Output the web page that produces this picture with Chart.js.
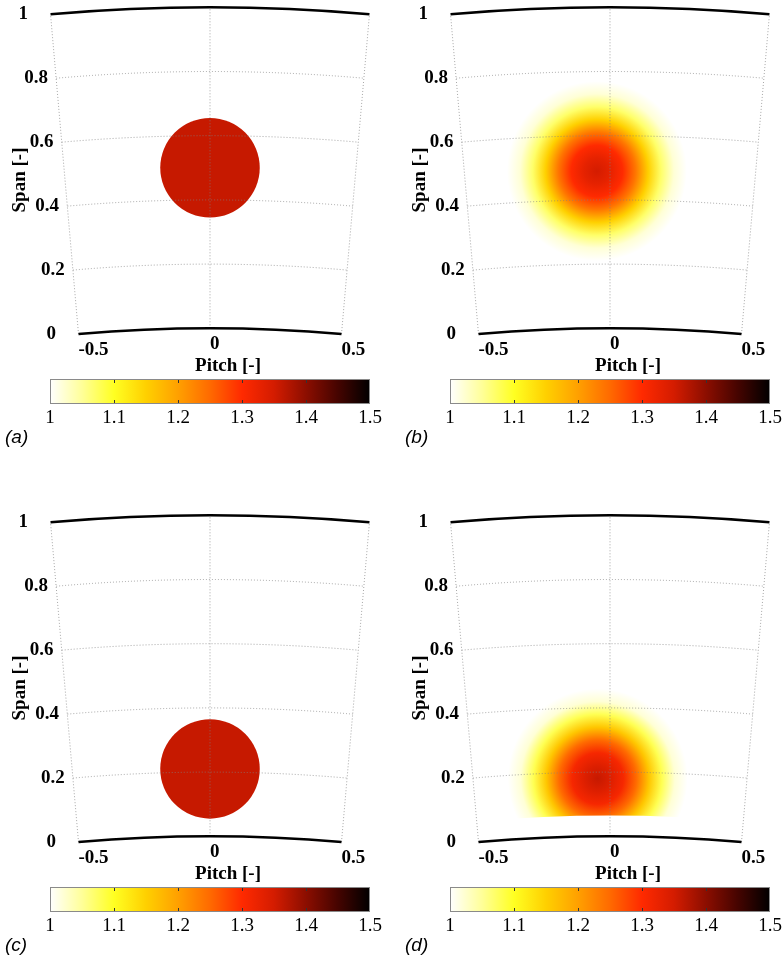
<!DOCTYPE html>
<html>
<head>
<meta charset="utf-8">
<script src="https://cdn.jsdelivr.net/npm/chart.js@4.4.1/dist/chart.umd.min.js"></script>
<style>
  body { margin: 0; background: #fff; width: 782px; height: 961px; position: relative; overflow: hidden; }
  canvas { position: absolute; }
  .tag { position: absolute; font: italic 19px "Liberation Sans", Arial, sans-serif; line-height: 22px; }
</style>
</head>
<body>
<script>
// what sits in each of the four sectors
const panelNames = ['(a)', '(b)', '(c)', '(d)'];
const panelKinds = ['disk', 'blob', 'disk', 'blob'];
const centerPitch = [0, -0.045, 0, -0.045];
const centerSpan = [0.50, 0.49, 0.21, 0.18];
const diskDiameter = [0.31, 0, 0.31, 0];
const diskValue = [1.36, 0, 1.36, 0];
const blobCutSpan = [0, 0, 0, 0.065];

// radial profiles of the smeared distributions
const blobRadius = [0, 0.04, 0.08, 0.12, 0.16, 0.20, 0.24, 0.28];
const blobValueB = [1.35, 1.33, 1.30, 1.24, 1.15, 1.07, 1.02, 1.00];
const blobValueD = [1.36, 1.34, 1.31, 1.25, 1.16, 1.08, 1.02, 1.00];
const blobValues = [null, blobValueB, null, blobValueD];

const spanTicks = [0, 0.2, 0.4, 0.6, 0.8, 1];
const pitchTicks = [-0.5, 0, 0.5];
const barTicks = [1, 1.1, 1.2, 1.3, 1.4, 1.5];

// inverted "hot" colour map
const cmapValues = [1.0, 1.05, 1.1, 1.15, 1.2, 1.25, 1.3, 1.35, 1.4, 1.45, 1.5];
const cmapColors = ['#ffffff', '#ffff99', '#ffff22', '#ffd000', '#ffa000', '#ff6a00',
                    '#ff2a00', '#d41c00', '#8c0e00', '#450400', '#000000'];

// annulus geometry, in span units
const HUB = 4.7, TIP = 5.7;
const PITCH_ANGLE = 10 * Math.PI / 180;
const PX = 321;                 // pixels per span unit
const AXIS_CX = 210, TIP_TOP = 7.3;
const W = 400, H = 380, ROW = 508, BAR_TOP = 379;

const SERIF = '"Liberation Serif", "Times New Roman", serif';
Chart.defaults.font.family = SERIF;

function hexRgb(h) {
    return [1, 3, 5].map(i => parseInt(h.substr(i, 2), 16));
}
function colorOf(v) {
    if (v <= cmapValues[0]) return cmapColors[0];
    for (let i = 1; i < cmapValues.length; i++) {
        if (v <= cmapValues[i]) {
            const t = (v - cmapValues[i - 1]) / (cmapValues[i] - cmapValues[i - 1]);
            const a = hexRgb(cmapColors[i - 1]), b = hexRgb(cmapColors[i]);
            const c = a.map((x, j) => Math.round(x + (b[j] - x) * t));
            return `rgb(${c[0]},${c[1]},${c[2]})`;
        }
    }
    return cmapColors[cmapColors.length - 1];
}

function toXY(pitch, span) {
    const r = HUB + span * (TIP - HUB), a = pitch * PITCH_ANGLE;
    return { x: r * Math.sin(a), y: r * Math.cos(a) };
}

function frame(chart) {
    const xs = chart.scales.x, ys = chart.scales.y;
    const ox = xs.getPixelForValue(0), oy = ys.getPixelForValue(0);
    const k = xs.getPixelForValue(1) - ox;
    const f = {
        xs, ys, ox, oy, k,
        rad: s => (HUB + s * (TIP - HUB)) * k,
        ang: p => -Math.PI / 2 + p * PITCH_ANGLE,
    };
    f.pt = (p, s) => {
        const r = f.rad(s), a = f.ang(p);
        return { x: ox + r * Math.cos(a), y: oy + r * Math.sin(a) };
    };
    return f;
}

const annulus = {
    id: 'annulus',
    beforeDatasetsDraw(chart, args, o) {
        const i = o.index;
        if (panelKinds[i] !== 'blob') return;
        const f = frame(chart), ctx = chart.ctx;
        const c = toXY(centerPitch[i], centerSpan[i]);
        const cx = f.xs.getPixelForValue(c.x), cy = f.ys.getPixelForValue(c.y);
        const rMax = blobRadius[blobRadius.length - 1];
        const g = ctx.createRadialGradient(cx, cy, 0, cx, cy, rMax * f.k);
        blobRadius.forEach((r, j) => g.addColorStop(r / rMax, colorOf(blobValues[i][j])));
        ctx.save();
        ctx.beginPath();
        ctx.arc(f.ox, f.oy, f.rad(1), f.ang(-0.5), f.ang(0.5));
        ctx.arc(f.ox, f.oy, f.rad(blobCutSpan[i]), f.ang(0.5), f.ang(-0.5), true);
        ctx.closePath();
        ctx.clip();
        ctx.fillStyle = g;
        ctx.beginPath();
        ctx.arc(cx, cy, rMax * f.k, 0, Math.PI * 2);
        ctx.fill();
        ctx.restore();
    },
    afterDatasetsDraw(chart) {
        const f = frame(chart), ctx = chart.ctx;
        ctx.save();
        // dotted grid
        ctx.strokeStyle = 'rgba(130,130,130,0.7)';
        ctx.lineWidth = 1;
        ctx.setLineDash([1, 2]);
        spanTicks.slice(1, -1).forEach(s => {
            ctx.beginPath();
            ctx.arc(f.ox, f.oy, f.rad(s), f.ang(-0.5), f.ang(0.5));
            ctx.stroke();
        });
        pitchTicks.forEach(p => {
            const a = f.pt(p, 0), b = f.pt(p, 1);
            ctx.beginPath();
            ctx.moveTo(a.x, a.y);
            ctx.lineTo(b.x, b.y);
            ctx.stroke();
        });
        // hub and casing
        ctx.setLineDash([]);
        ctx.strokeStyle = '#000';
        ctx.lineWidth = 2.5;
        [0, 1].forEach(s => {
            ctx.beginPath();
            ctx.arc(f.ox, f.oy, f.rad(s), f.ang(-0.5), f.ang(0.5));
            ctx.stroke();
        });
        // tick labels
        ctx.fillStyle = '#000';
        ctx.font = `bold 19px ${SERIF}`;
        ctx.textAlign = 'left';
        ctx.textBaseline = 'middle';
        spanTicks.forEach(s => {
            const p = f.pt(-0.5, s);
            ctx.fillText(String(s), p.x - 32, p.y);
        });
        pitchTicks.forEach(q => {
            const p = f.pt(q, 0);
            ctx.fillText(String(q), p.x, p.y + 16);
        });
        // axis titles
        ctx.textAlign = 'center';
        ctx.fillText('Pitch [-]', 228, 366);
        ctx.translate(20, 180);
        ctx.rotate(-Math.PI / 2);
        ctx.fillText('Span [-]', 0, 0);
        ctx.restore();
    }
};

const colorbar = {
    id: 'colorbar',
    beforeDatasetsDraw(chart) {
        const ctx = chart.ctx, a = chart.chartArea, xs = chart.scales.x;
        const g = ctx.createLinearGradient(a.left, 0, a.right, 0);
        cmapValues.forEach((v, i) => g.addColorStop((v - 1) / 0.5, cmapColors[i]));
        ctx.save();
        ctx.fillStyle = g;
        ctx.fillRect(a.left, a.top, a.right - a.left, a.bottom - a.top);
        ctx.strokeStyle = '#333';
        ctx.lineWidth = 1;
        barTicks.slice(1, -1).forEach(v => {
            const x = Math.round(xs.getPixelForValue(v)) + 0.5;
            ctx.beginPath();
            ctx.moveTo(x, a.top); ctx.lineTo(x, a.top + 4);
            ctx.moveTo(x, a.bottom); ctx.lineTo(x, a.bottom - 4);
            ctx.stroke();
        });
        ctx.strokeStyle = '#8a8a8a';
        ctx.strokeRect(a.left + 0.5, a.top + 0.5, a.right - a.left - 1, a.bottom - a.top - 1);
        ctx.restore();
    }
};

function addCanvas(left, top, w, h) {
    const c = document.createElement('canvas');
    c.width = w; c.height = h;
    c.style.left = left + 'px'; c.style.top = top + 'px';
    document.body.appendChild(c);
    return c;
}

panelNames.forEach((name, i) => {
    const left = (i % 2) * 400, top = Math.floor(i / 2) * ROW;

    const datasets = [];
    if (panelKinds[i] === 'disk') {
        datasets.push({
            data: [toXY(centerPitch[i], centerSpan[i])],
            backgroundColor: colorOf(diskValue[i]),
            borderWidth: 0,
            pointRadius: c => diskDiameter[i] / 2 *
                (c.chart.scales.x.getPixelForValue(1) - c.chart.scales.x.getPixelForValue(0)),
        });
    }

    new Chart(addCanvas(left, top, W, H), {
        type: 'scatter',
        data: { datasets },
        options: {
            responsive: false,
            animation: false,
            events: [],
            layout: { padding: 0 },
            scales: {
                x: { type: 'linear', display: false, bounds: 'data',
                     min: -AXIS_CX / PX, max: (W - AXIS_CX) / PX },
                y: { type: 'linear', display: false, bounds: 'data',
                     min: TIP + TIP_TOP / PX - H / PX, max: TIP + TIP_TOP / PX }
            },
            plugins: { legend: { display: false }, tooltip: { enabled: false },
                       annulus: { index: i } }
        },
        plugins: [annulus]
    });

    new Chart(addCanvas(left, top + BAR_TOP, W, 50), {
        type: 'scatter',
        data: { datasets: [] },
        options: {
            responsive: false,
            animation: false,
            events: [],
            layout: { padding: { left: 50, right: 30, top: 0, bottom: 0 } },
            scales: {
                x: {
                    type: 'linear', position: 'bottom', min: barTicks[0], max: barTicks[barTicks.length - 1],
                    afterBuildTicks: s => { s.ticks = barTicks.map(v => ({ value: v })); },
                    ticks: { color: '#000', padding: 3, maxRotation: 0,
                             font: { size: 19, family: SERIF },
                             callback: v => String(Math.round(v * 10) / 10) },
                    grid: { display: false, drawTicks: false },
                    border: { display: false }
                },
                y: { display: false }
            },
            plugins: { legend: { display: false }, tooltip: { enabled: false } }
        },
        plugins: [colorbar]
    });

    const tag = document.createElement('div');
    tag.className = 'tag';
    tag.textContent = name;
    tag.style.left = (left + 5) + 'px';
    tag.style.top = (top + 426) + 'px';
    document.body.appendChild(tag);
});
</script>
</body>
</html>
